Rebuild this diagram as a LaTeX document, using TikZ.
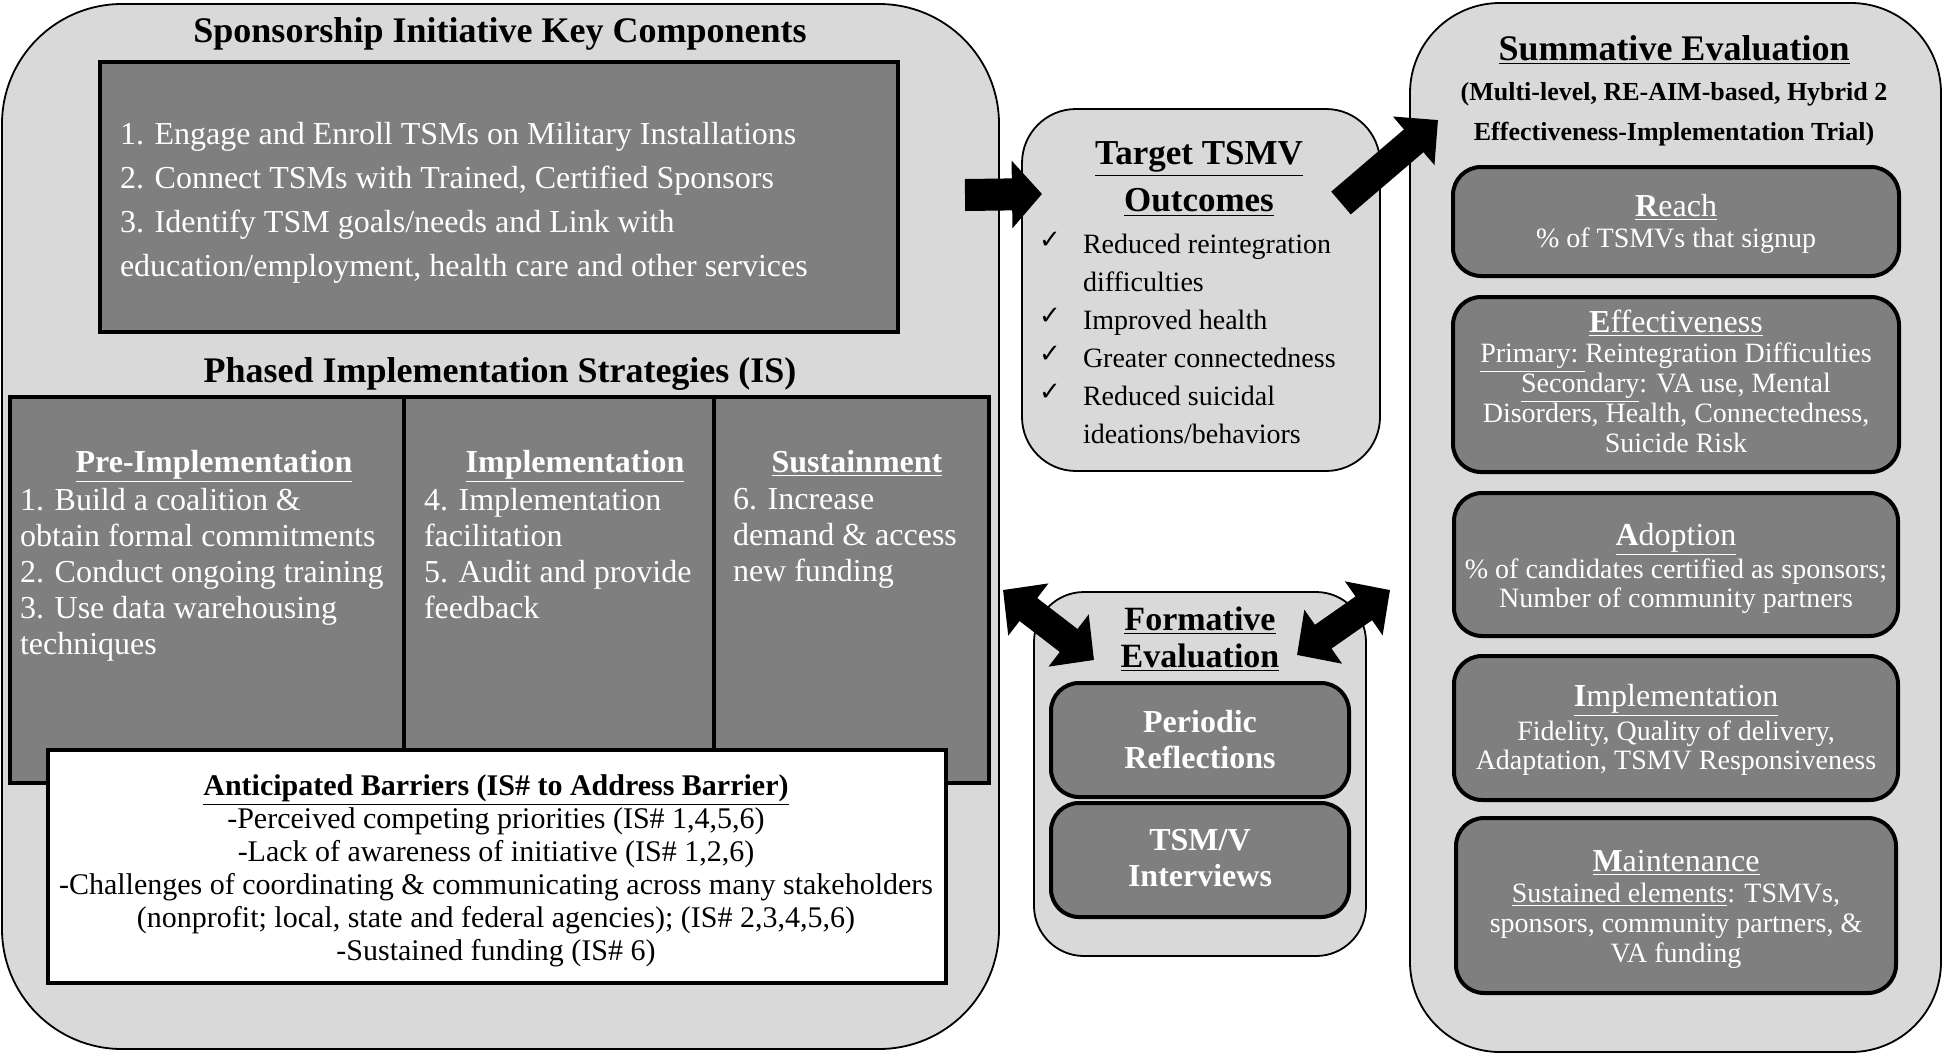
\documentclass[tikz,border=0pt]{standalone}
\usepackage{fontspec}
\setmainfont{Liberation Serif}
\newfontfamily\checkfont{DejaVu Sans}
\usetikzlibrary{arrows.meta}
\definecolor{lightbox}{RGB}{217,217,217}
\definecolor{darkbox}{RGB}{127,127,127}
\newcommand\fsz[2]{\fontsize{#1}{#2}\selectfont}
\begin{document}
\begin{tikzpicture}[x=0.5pt,y=-0.5pt,
  bigbox/.style={draw=black, line width=0.9pt, fill=lightbox, inner sep=0pt, outer sep=0pt, anchor=north west},
  darkrect/.style={draw=black, line width=1.6pt, fill=darkbox, inner sep=0pt, outer sep=0pt, anchor=north west},
  whiterect/.style={draw=black, line width=1.6pt, fill=white, inner sep=0pt, outer sep=0pt, anchor=north west},
  darkround/.style={darkrect, rounded corners=14pt, line width=2pt},
  txt/.style={inner sep=0pt, outer sep=0pt, text=black},
  wtxt/.style={inner sep=0pt, outer sep=0pt, text=white},
  blockarrow/.style={draw=black, line width=16pt, -{Triangle[length=15pt,width=33pt]}},
  twoarrow/.style={draw=black, line width=14.5pt, {Triangle[length=16pt,width=32pt]}-{Triangle[length=16pt,width=32pt]}}
]
\useasboundingbox (0,0) rectangle (1944,1056);

% ---------------- left container ----------------
\node[bigbox, rounded corners=60pt, minimum width=498.5pt, minimum height=522.5pt] (leftbox) at (2,4) {};
\node[txt, font=\fsz{18}{20}\bfseries] (sponsT) at (500,34) {Sponsorship Initiative Key Components};
\node[darkrect, minimum width=399pt, minimum height=135pt] (keybox) at (100,62) {};
\node[wtxt, anchor=west, align=left, font=\fsz{16}{22}] (keytxt) at (120,203)
  {1. Engage and Enroll TSMs on Military Installations\\
   2. Connect TSMs with Trained, Certified Sponsors\\
   3. Identify TSM goals/needs and Link with\\
   education/employment, health care and other services};

\node[txt, font=\fsz{18}{20}\bfseries] (phaseT) at (500,374) {Phased Implementation Strategies (IS)};
\node[darkrect, minimum width=489.5pt, minimum height=193pt] (phasebox) at (10,397) {};
\draw[line width=1.6pt] (404,397) -- (404,783);
\draw[line width=1.6pt] (714,397) -- (714,783);

\node[wtxt, anchor=base, font=\fsz{16}{18}\bfseries] (preT) at (214,472) {\underline{Pre-Implementation}};
\node[wtxt, anchor=base, font=\fsz{16}{18}\bfseries] (implT) at (575,472) {\underline{Implementation}};
\node[wtxt, anchor=base, font=\fsz{16}{18}\bfseries] (sustT) at (857,472) {\underline{Sustainment}};

\node[wtxt, anchor=north west, align=left, font=\fsz{16}{18}] (preB) at (20,488)
  {1. Build a coalition \&\\ obtain formal commitments\\ 2. Conduct ongoing training\\ 3. Use data warehousing\\ techniques};
\node[wtxt, anchor=north west, align=left, font=\fsz{16}{18}] (implB) at (424,488)
  {4. Implementation\\ facilitation\\ 5. Audit and provide\\ feedback};
\node[wtxt, anchor=north west, align=left, font=\fsz{16}{18}] (sustB) at (733,488)
  {6. Increase\\ demand \& access\\ new funding};

\node[whiterect, minimum width=449pt, minimum height=116.5pt] (barbox) at (48,750) {};
\node[txt, align=center, font=\fsz{15}{16.5}] (barT) at (496,871)
  {\textbf{\underline{Anticipated Barriers (IS\# to Address Barrier)}}\\
   -Perceived competing priorities (IS\# 1,4,5,6)\\
   -Lack of awareness of initiative (IS\# 1,2,6)\\
   -Challenges of coordinating \& communicating across many stakeholders\\
   (nonprofit; local, state and federal agencies); (IS\# 2,3,4,5,6)\\
   -Sustained funding (IS\# 6)};

% ---------------- target outcomes ----------------
\node[bigbox, rounded corners=27pt, minimum width=179pt, minimum height=181pt] (target) at (1022,109) {};
\node[txt, align=center, font=\fsz{17.5}{23.5}\bfseries] (targetT) at (1199,179)
  {\underline{Target TSMV}\\ \underline{Outcomes}};
\node[txt, anchor=north west, align=left, font=\fsz{14}{19}] (targetL) at (1083,234)
  {Reduced reintegration\\ difficulties\\ Improved health\\ Greater connectedness\\ Reduced suicidal\\ ideations/behaviors};
\node[txt, font=\checkfont\fsz{13}{14}] (chk1) at (1050,240) {✓};
\node[txt, font=\checkfont\fsz{13}{14}] (chk2) at (1050,316) {✓};
\node[txt, font=\checkfont\fsz{13}{14}] (chk3) at (1050,354) {✓};
\node[txt, font=\checkfont\fsz{13}{14}] (chk4) at (1050,392) {✓};

% ---------------- formative evaluation ----------------
\node[bigbox, rounded corners=25pt, minimum width=166pt, minimum height=182pt] (form) at (1034,592) {};
\node[txt, align=center, font=\fsz{17}{18.5}\bfseries] (formT) at (1200,639)
  {\underline{Formative}\\ \underline{Evaluation}};
\node[darkround, minimum width=149pt, minimum height=57pt] (period) at (1051,683) {};
\node[wtxt, align=center, font=\fsz{16}{18}\bfseries] (periodT) at (1200,740) {Periodic\\ Reflections};
\node[darkround, minimum width=149pt, minimum height=57pt] (interv) at (1051,803) {};
\node[wtxt, align=center, font=\fsz{16}{18}\bfseries] (intervT) at (1200,858) {TSM/V\\ Interviews};

% ---------------- summative evaluation ----------------
\node[bigbox, rounded corners=45pt, minimum width=265.5pt, minimum height=524.5pt] (summ) at (1410,3) {};
\node[txt, font=\fsz{18}{20}\bfseries] (summT) at (1674,50) {\underline{Summative Evaluation}};
\node[txt, align=center, font=\fsz{13}{20}\bfseries] (summS) at (1674,114)
  {(Multi-level, RE-AIM-based, Hybrid 2\\ Effectiveness-Implementation Trial)};

\node[darkround, minimum width=223pt, minimum height=54.5pt] (reach) at (1453,167) {};
\node[wtxt, anchor=base, font=\fsz{16}{17}] (reachT) at (1676,216) {\underline{\textbf{R}each}};
\node[wtxt, font=\fsz{14}{15}] (reachB) at (1676,241) {\% of TSMVs that signup};

\node[darkround, minimum width=223pt, minimum height=87.5pt] (eff) at (1453,297) {};
\node[wtxt, anchor=base, font=\fsz{16}{17}] (effT) at (1676,332) {\underline{\textbf{E}ffectiveness}};
\node[wtxt, align=center, font=\fsz{14}{15}] (effB) at (1676,398)
  {\underline{Primary:\ }Reintegration Difficulties\\
   \underline{Secondary}: VA use, Mental\\
   Disorders, Health, Connectedness,\\
   Suicide Risk};

\node[darkround, minimum width=222pt, minimum height=71.5pt] (adop) at (1454,493) {};
\node[wtxt, anchor=base, font=\fsz{16}{17}] (adopT) at (1676,545) {\underline{\textbf{A}doption}};
\node[wtxt, align=center, font=\fsz{14}{14.5}] (adopB) at (1676,586)
  {\% of candidates certified as sponsors;\\ Number of community partners};

\node[darkround, minimum width=222pt, minimum height=72pt] (impl) at (1454,656) {};
\node[wtxt, anchor=base, font=\fsz{16}{17}] (implT2) at (1676,706) {\underline{\textbf{I}mplementation}};
\node[wtxt, align=center, font=\fsz{14}{14.5}] (implB2) at (1676,748)
  {Fidelity, Quality of delivery,\\ Adaptation, TSMV Responsiveness};

\node[darkround, minimum width=220pt, minimum height=87.5pt] (maint) at (1456,818) {};
\node[wtxt, anchor=base, font=\fsz{16}{17}] (maintT) at (1676,871) {\underline{\textbf{M}aintenance}};
\node[wtxt, align=center, font=\fsz{14}{15}] (maintB) at (1676,926)
  {\underline{Sustained elements}: TSMVs,\\ sponsors, community partners, \&\\ VA funding};

% ---------------- arrows ----------------
\coordinate (a1s) at (965,195);
\coordinate (a1e) at (1042,194);
\coordinate (a2s) at (1341,203);
\coordinate (a2e) at (1438,120);
\coordinate (d1s) at (1003,590);
\coordinate (d1e) at (1094,660);
\coordinate (d2s) at (1297,655);
\coordinate (d2e) at (1390,590);
\draw[blockarrow] (a1s) -- (a1e);
\draw[blockarrow, line width=15pt, -{Triangle[length=16pt,width=31pt]}] (a2s) -- (a2e);
\draw[twoarrow] (d1s) -- (d1e);
\draw[twoarrow] (d2s) -- (d2e);
\end{tikzpicture}
\end{document}
